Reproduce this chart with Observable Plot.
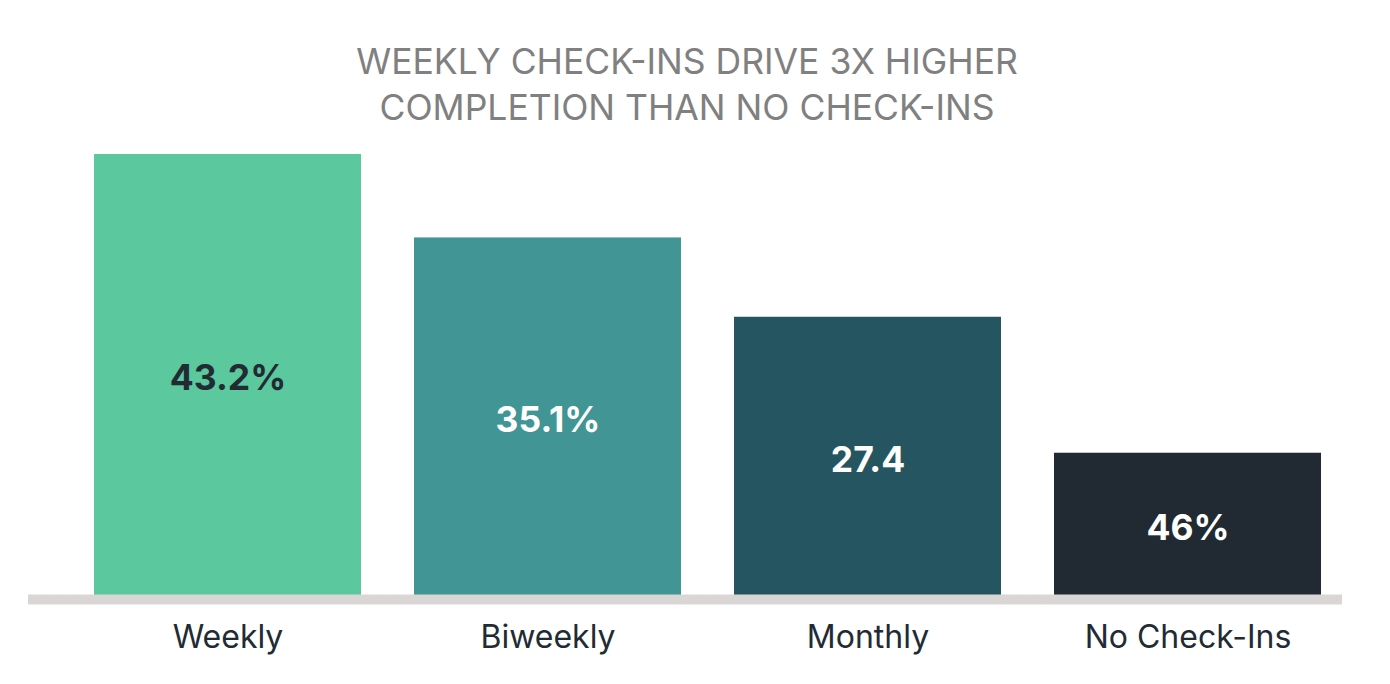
<!DOCTYPE html>
<html>
<head>
<meta charset="utf-8">
<script src="https://cdn.jsdelivr.net/npm/d3@7"></script>
<script src="https://cdn.jsdelivr.net/npm/@observablehq/plot@0.6"></script>
<style>
  html, body { margin: 0; padding: 0; background: #fff; }
  body { width: 1390px; height: 684px; overflow: hidden; font-family: Inter, "Noto Sans", sans-serif; }
  #title { height: 140px; box-sizing: border-box; padding-top: 39px; padding-right: 16px; text-align: center;
           color: #808080; font-size: 35.5px; line-height: 46px; font-weight: 400; }
  #chart svg { display: block; }
</style>
</head>
<body>
<div id="title">WEEKLY CHECK-INS DRIVE 3X HIGHER<br>COMPLETION THAN NO CHECK-INS</div>
<div id="chart"></div>
<script>
const categories = ["Weekly", "Biweekly", "Monthly", "No Check-Ins"];
const values = [43.2, 35.1, 27.4, 14.2];
const valueLabels = ["43.2%", "35.1%", "27.4", "46%"];
const colors = ["#5bc89d", "#419594", "#255560", "#212a33"];
const labelColors = ["#222b33", "#ffffff", "#ffffff", "#ffffff"];

const data = categories.map((c, i) => ({
  category: c, value: values[i], label: valueLabels[i], color: colors[i], labelColor: labelColors[i]
}));

const chart = Plot.plot({
  width: 1390,
  height: 544,
  marginLeft: 94,
  marginRight: 69,
  marginTop: 14,
  marginBottom: 85,
  style: { fontFamily: "Inter, 'Noto Sans', sans-serif", background: "#fff" },
  x: { domain: categories, paddingInner: 0.166, paddingOuter: 0, label: null },
  y: { domain: [0, 43.2], axis: null },
  marks: [
    Plot.barY(data, { x: "category", y: "value", fill: "color" }),
    Plot.ruleY([0], { stroke: "#d9d6d5", strokeWidth: 10, insetLeft: -66, insetRight: -21 }),
    Plot.text(data, { x: "category", y: d => d.value / 2, text: "label", fill: "labelColor",
                      fontSize: 35.5, fontWeight: 700, dy: 2 }),
    Plot.axisX({ tickSize: 0, tickPadding: 26, fontSize: 32, color: "#222b33", label: null })
  ]
});
document.getElementById("chart").appendChild(chart);
</script>
</body>
</html>
